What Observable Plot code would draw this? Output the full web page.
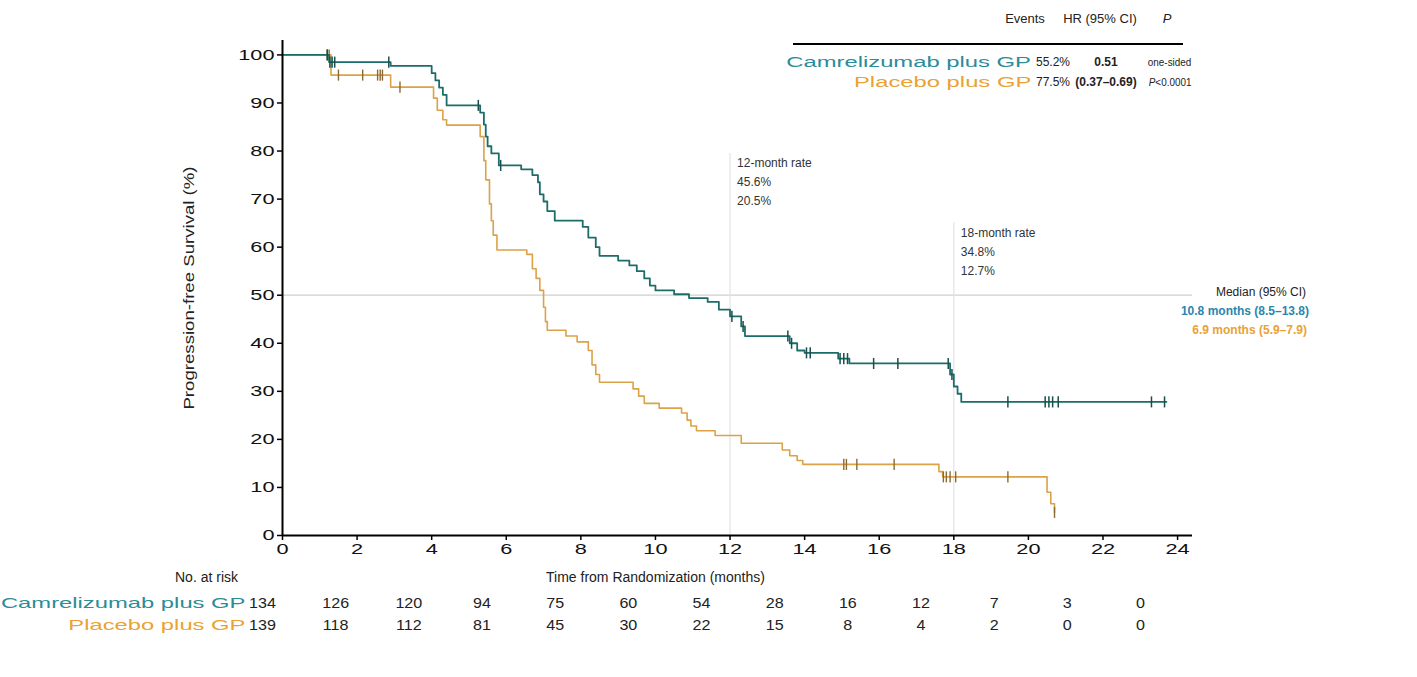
<!DOCTYPE html>
<html><head><meta charset="utf-8">
<script src="https://cdn.jsdelivr.net/npm/d3@7"></script>
<script src="https://cdn.jsdelivr.net/npm/@observablehq/plot@0.6"></script>
<style>
body{margin:0;background:#fff;font-family:"Liberation Sans",Arial,sans-serif;}
#wrap{position:relative;width:1417px;height:677px;overflow:hidden;}
#wrap svg{display:block;}
.abs{position:absolute;white-space:nowrap;line-height:1;}
</style></head><body><div id="wrap"></div>
<script>
// ---------- data ----------
const groups = ["Camrelizumab plus GP", "Placebo plus GP"];
const camTime = [0,1.25,2.9,4.0,4.1,4.2,4.3,4.4,5.3,5.4,5.45,5.5,5.6,5.8,6.4,6.7,6.85,6.9,7.0,7.1,7.3,8.05,8.2,8.4,8.5,9.0,9.3,9.5,9.7,9.85,10.0,10.5,10.9,11.4,11.7,12.0,12.3,12.4,13.6,13.8,14.0,14.9,15.2,17.9,18.0,18.1,18.2,23.7];
const camSurv = [100,98.5,97.7,96.2,94.7,93.2,91.7,89.5,88.0,85.5,83.0,81.0,79.5,77.0,76.2,75.0,73.5,71.0,69.5,67.5,65.5,64.2,62.0,60.0,58.2,57.2,56.2,55.0,53.5,52.0,51.0,50.2,49.4,48.6,47.0,45.6,43.5,41.5,40.0,38.5,38.0,36.8,35.8,33.5,31.0,29.5,27.8,27.8];
const camCensor = [1.2,1.27,1.33,1.4,2.85,5.25,5.85,12.05,12.35,13.55,13.65,14.05,14.15,14.95,15.05,15.15,15.85,16.5,17.85,17.95,19.45,20.45,20.55,20.65,20.8,23.3,23.65];
const plaTime = [0,1.3,2.9,4.05,4.15,4.3,4.4,5.3,5.4,5.45,5.55,5.6,5.65,5.75,6.55,6.7,6.8,6.9,7.0,7.05,7.1,7.6,7.9,8.2,8.3,8.4,8.5,9.4,9.55,9.7,10.1,10.7,10.85,10.95,11.1,11.6,12.3,13.4,13.6,13.8,13.95,17.6,17.7,20.5,20.6,20.7];
const plaSurv = [100,95.8,93.3,91.0,88.5,86.5,85.4,83.0,78.0,74.0,69.0,65.5,62.5,59.4,58.5,55.5,53.5,51.0,47.5,44.5,42.7,41.5,40.3,38.5,35.5,33.5,31.9,30.5,29.0,27.5,26.5,25.5,24.0,22.8,21.8,20.8,19.2,17.8,16.6,15.6,14.8,13.3,12.2,9.0,6.6,4.8];
const plaCensor = [1.2,1.25,1.5,2.15,2.55,2.62,2.68,3.15,15.05,15.12,15.4,16.4,17.72,17.8,17.9,18.05,19.45,20.7];
const xTicks = [0,2,4,6,8,10,12,14,16,18,20,22,24];
const yTicks = [0,10,20,30,40,50,60,70,80,90,100];
const riskTimes = [0,2,4,6,8,10,12,14,16,18,20,22,24];
const camRisk = [134,126,120,94,75,60,54,28,16,12,7,3,0];
const plaRisk = [139,118,112,81,45,30,22,15,8,4,2,0,0];
const landmarkTimes = [12,18];
const landmarkText = ["12-month rate\n45.6%\n20.5%", "18-month rate\n34.8%\n12.7%"];
const medianValue = 50;
const medianLegend = ["Median (95% CI)", "10.8 months (8.5–13.8)", "6.9 months (5.9–7.9)"];
const tableHeader = ["Events", "HR (95% CI)", "P"];
const tableEvents = ["55.2%", "77.5%"];
const tableHR = ["0.51", "(0.37–0.69)"];
const tableP = ["one-sided", "<0.0001"];

// ---------- derived tables ----------
const teal = "#1c6d69", orange = "#dca247";
const tealText = "#2b8c9a", orangeText = "#eaa234", medTeal = "#2b86ad";
const camLine = camTime.map((t,i)=>({t, s: camSurv[i]}));
const plaLine = plaTime.map((t,i)=>({t, s: plaSurv[i]}));
function survAt(times, survs, t){ let s = survs[0]; for (let i=0;i<times.length;i++){ if (times[i] <= t) s = survs[i]; } return s; }
const camC = camCensor.map(t=>({t, s: survAt(camTime, camSurv, t)}));
const plaC = plaCensor.map(t=>({t, s: survAt(plaTime, plaSurv, t)}));
const landmarks = landmarkTimes.map((t,i)=>({t, text: landmarkText[i], top: i===0 ? 79.5 : 65}));

const font = "Liberation Sans, Arial, sans-serif";
const wrap = document.getElementById("wrap");

// horizontal stretch of text glyphs (the reference's lettering is wide)
function stretch(svg, selector, k) {
  svg.querySelectorAll(selector).forEach(t => {
    const tr = t.getAttribute("transform") || "";
    t.setAttribute("transform", tr + ` scale(${k},1)`);
  });
}
const tag = name => () => name;

const main = Plot.plot({
  width: 1417, height: 590,
  marginLeft: 282, marginRight: 225, marginTop: 40, marginBottom: 55,
  style: {fontFamily: font, fontSize: "16px", color: "#111", background: "transparent"},
  x: {domain: [0, 24.4]},
  y: {domain: [0, 103]},
  marks: [
    Plot.ruleY([medianValue], {stroke: "#cfcfcf", strokeWidth: 1.3}),
    Plot.ruleX(landmarks, {x: "t", y1: 0, y2: "top", stroke: "#e2e2e2", strokeWidth: 1.2}),
    Plot.text(landmarks, {x: "t", y: "top", text: "text", dx: 7, textAnchor: "start", lineAnchor: "top", lineHeight: 1.6, fontSize: 12, fill: "#333"}),
    Plot.line(plaLine, {x: "t", y: "s", curve: "step-after", stroke: orange, strokeWidth: 1.6}),
    Plot.link(plaC, {x1: "t", x2: "t", y1: d => d.s - 1.15, y2: d => d.s + 1.15, stroke: "#8a6a30", strokeWidth: 1.4}),
    Plot.line(camLine, {x: "t", y: "s", curve: "step-after", stroke: teal, strokeWidth: 1.8}),
    Plot.link(camC, {x1: "t", x2: "t", y1: d => d.s - 1.15, y2: d => d.s + 1.15, stroke: "#174f4c", strokeWidth: 1.5}),
    Plot.axisX({ticks: xTicks, tickSize: 5, tickPadding: 3, label: null, stroke: "#000", strokeWidth: 1.5, fontSize: 15}),
    Plot.axisY({ticks: yTicks, tickSize: 5, tickPadding: 3, label: null, stroke: "#000", strokeWidth: 1.5, fontSize: 15}),
    Plot.ruleX([0], {stroke: "#000", strokeWidth: 2}),
    Plot.ruleY([0], {stroke: "#000", strokeWidth: 2}),
    Plot.text(["Progression-free Survival (%)"], {frameAnchor: "left", dx: -93, rotate: -90, textAnchor: "middle", fontSize: 14, fill: "#222", ariaLabel: tag("ylabel")}),
    Plot.text(["Time from Randomization (months)"], {x: 10, frameAnchor: "bottom", dy: 42, lineAnchor: "middle", fontSize: 14, fill: "#222"}),
    Plot.text(["No. at risk"], {frameAnchor: "bottom-left", dx: -76, dy: 42, textAnchor: "middle", lineAnchor: "middle", fontSize: 14, fill: "#222"})
  ]
});
stretch(main, 'g[aria-label="x-axis tick label"] text', 1.45);
stretch(main, 'g[aria-label="y-axis tick label"] text', 1.45);
stretch(main, 'text[aria-label="ylabel"]', 1.33);
wrap.appendChild(main);

const riskData = [];
riskTimes.forEach((t,j)=>{ riskData.push({g: groups[0], t, n: camRisk[j]}); riskData.push({g: groups[1], t, n: plaRisk[j]}); });
const risk = Plot.plot({
  width: 1417, height: 87,
  marginLeft: 262, marginRight: 277, marginTop: 0, marginBottom: 0,
  style: {fontFamily: font, fontSize: "14px", color: "#111", background: "transparent"},
  x: {domain: [0, 24], axis: null},
  y: {type: "point", domain: groups, range: [13, 35], padding: 0, axis: null},
  marks: [
    Plot.text(riskData, {x: "t", y: "g", text: d => String(d.n), fontSize: 14, fill: "#222", ariaLabel: tag("risk-n")}),
    Plot.text([groups[0]], {x: 0, y: d => d, text: d => d, dx: -17, textAnchor: "end", fontSize: 14, fill: tealText, ariaLabel: tag("risk-label")}),
    Plot.text([groups[1]], {x: 0, y: d => d, text: d => d, dx: -17, textAnchor: "end", fontSize: 14, fill: orangeText, ariaLabel: tag("risk-label")})
  ]
});
stretch(risk, 'text[aria-label="risk-n"]', 1.15);
stretch(risk, 'text[aria-label="risk-label"]', 1.7);
wrap.appendChild(risk);

// ---------- overlays: HR table & median legend ----------
function addText(txt, left, top, opts = {}) {
  const d = document.createElement("div");
  d.className = "abs";
  d.innerHTML = txt;
  Object.assign(d.style, {left: left + "px", top: top + "px", fontSize: (opts.size || 12) + "px", color: opts.color || "#222", fontWeight: opts.bold ? "bold" : "normal", fontStyle: opts.italic ? "italic" : "normal"});
  if (opts.align === "right") { d.style.left = "auto"; d.style.right = (1417 - left) + "px"; d.style.textAlign = "right"; d.style.transformOrigin = "right center"; }
  if (opts.align === "center") { d.style.width = "140px"; d.style.left = (left - 70) + "px"; d.style.textAlign = "center"; }
  if (opts.sx) d.style.transform = `scaleX(${opts.sx})`;
  wrap.appendChild(d);
}
const line = document.createElement("div");
Object.assign(line.style, {position: "absolute", left: "793px", top: "43px", width: "390px", height: "2px", background: "#000"});
wrap.appendChild(line);
addText(tableHeader[0], 1025, 12, {align: "center", size: 13});
addText(tableHeader[1], 1100, 12, {align: "center", size: 13});
addText(tableHeader[2], 1167, 12, {align: "center", size: 13, italic: true});
addText(groups[0], 1031, 55, {align: "right", color: tealText, size: 14, sx: 1.7});
addText(groups[1], 1031, 75, {align: "right", color: orangeText, size: 14, sx: 1.7});
addText(tableEvents[0], 1053, 56, {align: "center", size: 12});
addText(tableEvents[1], 1053, 76, {align: "center", size: 12});
addText(tableHR[0], 1106, 56, {align: "center", bold: true, size: 12});
addText(tableHR[1], 1106, 76, {align: "center", bold: true, size: 12});
addText(tableP[0], 1191, 57, {align: "right", size: 11, sx: 0.9});
addText("<i>P</i>" + tableP[1], 1191, 77, {align: "right", size: 11, sx: 0.9});

addText(medianLegend[0], 1306, 286, {align: "right", size: 12});
addText(medianLegend[1], 1309, 305, {align: "right", size: 12, bold: true, color: medTeal});
addText(medianLegend[2], 1307, 324, {align: "right", size: 12, bold: true, color: orangeText});
</script>
</body></html>
